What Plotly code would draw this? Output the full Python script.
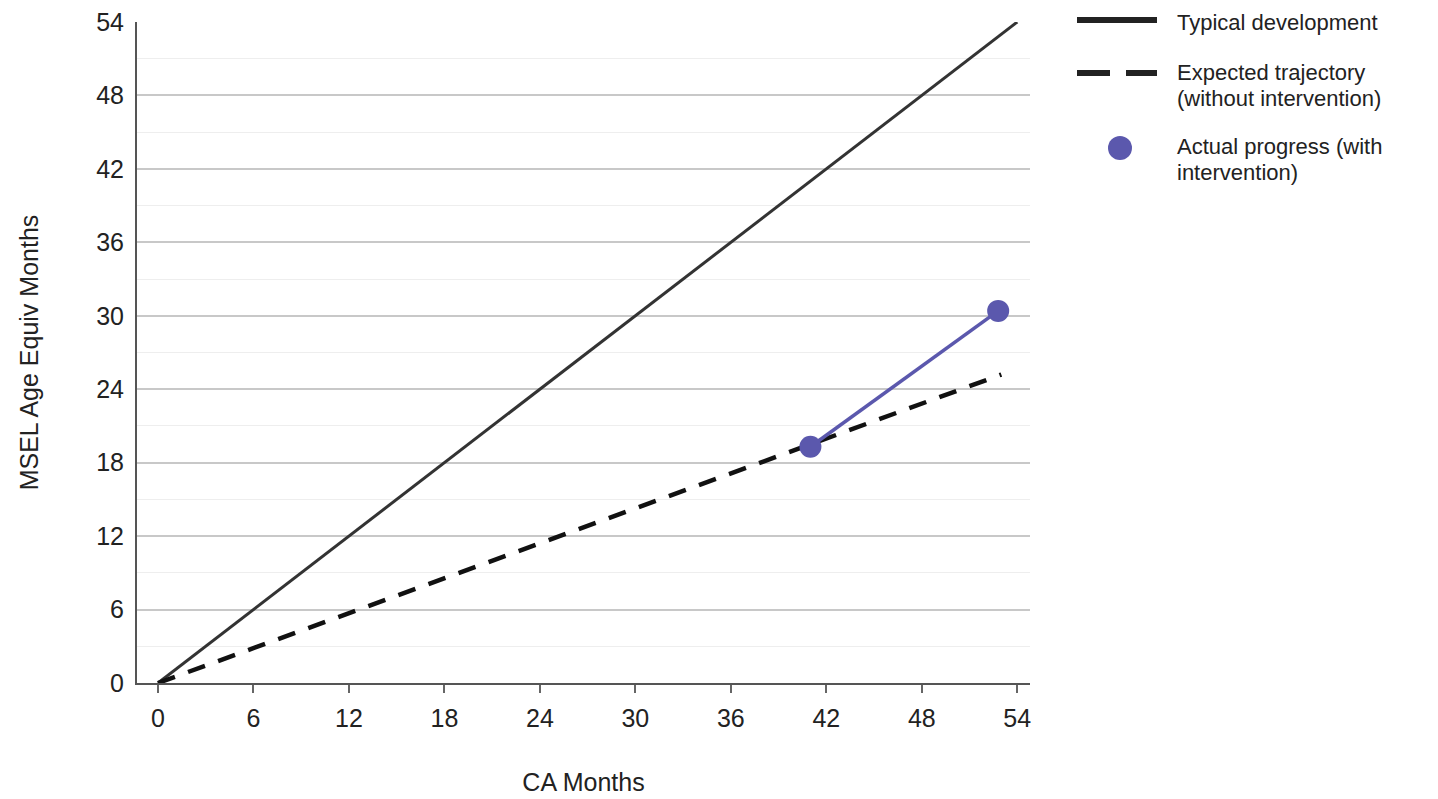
import plotly.graph_objects as go

# Data
typical_x = [0, 54]
typical_y = [0, 54]
expected_x = [0, 53]
expected_y = [0, 25.2]
actual_x = [41, 52.8]
actual_y = [19.3, 30.4]
tick_vals = [0, 6, 12, 18, 24, 30, 36, 42, 48, 54]
legend_labels = [
    ["Typical development"],
    ["Expected trajectory", "(without intervention)"],
    ["Actual progress (with", "intervention)"],
]

PURPLE = "#5b58ad"
font_family = "Liberation Sans, Arial, sans-serif"
TXT = "#222222"

fig = go.Figure()
fig.add_trace(go.Scatter(x=typical_x, y=typical_y, mode="lines",
                         name=legend_labels[0][0], showlegend=False,
                         line=dict(color="#333333", width=3)))
fig.add_trace(go.Scatter(x=expected_x, y=expected_y, mode="lines",
                         name=" ".join(legend_labels[1]), showlegend=False,
                         line=dict(color="#111111", width=4.5, dash="18px,14px")))
fig.add_trace(go.Scatter(x=actual_x, y=actual_y, mode="lines+markers",
                         name=" ".join(legend_labels[2]), showlegend=False,
                         line=dict(color=PURPLE, width=3.5),
                         marker=dict(color=PURPLE, size=22)))

# plot area in page pixels (page body has an 8px margin)
OFF = 8
L, R, T, B = 137, 1030, 22, 683
W, H = R - L, B - T
def px(x):
    return (x - L) / W
def py(y):
    return (B - y) / H

shapes = []
annotations = []
# legend item 1: solid line
shapes.append(dict(type="line", xref="paper", yref="paper", x0=px(1077), x1=px(1157),
                   y0=py(20), y1=py(20), line=dict(color="#222222", width=6)))
# legend item 2: dashes
shapes.append(dict(type="line", xref="paper", yref="paper", x0=px(1077), x1=px(1110),
                   y0=py(73), y1=py(73), line=dict(color="#222222", width=6)))
shapes.append(dict(type="line", xref="paper", yref="paper", x0=px(1126), x1=px(1157),
                   y0=py(73), y1=py(73), line=dict(color="#222222", width=6)))
# legend item 3: circle
shapes.append(dict(type="circle", xref="paper", yref="paper", x0=px(1108), x1=px(1132),
                   y0=py(160), y1=py(136), fillcolor=PURPLE, line=dict(width=0)))

line_y = [[22], [73, 98], [147, 172]]
for labels, ys in zip(legend_labels, line_y):
    for text, yy in zip(labels, ys):
        annotations.append(dict(text=text, xref="paper", yref="paper", x=px(1176), y=py(yy),
                                xanchor="left", yanchor="middle", showarrow=False,
                                borderpad=0,
                                font=dict(family=font_family, size=22, color=TXT)))

fig.update_layout(
    width=1438, height=799,
    margin=dict(l=L - OFF, r=1438 + OFF - R, t=T - OFF, b=799 + OFF - B),
    paper_bgcolor="white", plot_bgcolor="white",
    font=dict(family=font_family, size=25, color=TXT),
    showlegend=False,
    shapes=shapes, annotations=annotations,
    xaxis=dict(range=[-1.32, 54.8], tickvals=tick_vals, ticktext=[str(v) for v in tick_vals],
               showgrid=False, zeroline=False, showline=True, linecolor="#555555", linewidth=2,
               ticks="outside", ticklen=8, tickwidth=2, tickcolor="#666666", automargin=False,
               ticklabelstandoff=4, ticklabeloverflow="allow",
               tickfont=dict(size=25), title=dict(text="CA Months", font=dict(size=25), standoff=42)),
    yaxis=dict(range=[0, 54], tickvals=tick_vals, ticktext=[str(v) for v in tick_vals],
               showgrid=True, gridcolor="#c8c8c8", gridwidth=1.5, zeroline=False, automargin=False,
               showline=True, linecolor="#555555", linewidth=2, ticks="", ticklabelstandoff=6,
               ticklabeloverflow="allow",
               minor=dict(dtick=3, showgrid=True, gridcolor="#eeeeee", gridwidth=1),
               tickfont=dict(size=25), title=dict(text="MSEL Age Equiv Months", font=dict(size=25), standoff=50)),
)
fig.write_html("out.html")
